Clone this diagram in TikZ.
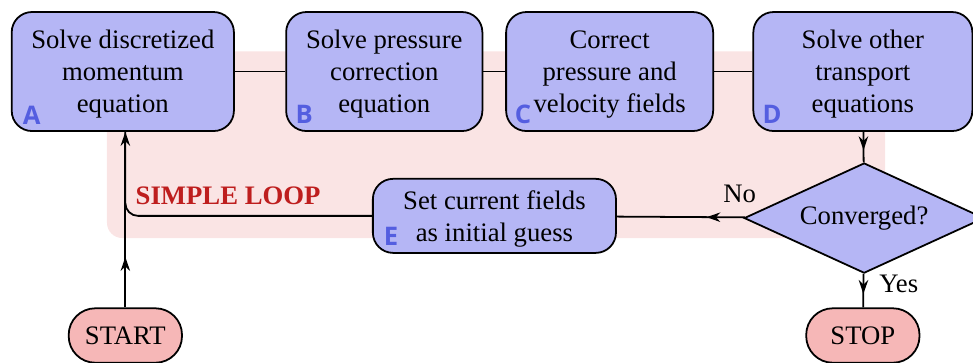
\documentclass[tikz,border=0pt]{standalone}
\usepackage{fontspec}
\setmainfont{Liberation Serif}
\newfontfamily\tagfont{Open Sans}
\usepackage{tikz}
\usetikzlibrary{arrows.meta,positioning,shapes.geometric,calc,decorations.markings}
\definecolor{boxB}{RGB}{181,182,245}
\definecolor{tagB}{RGB}{84,94,224}
\definecolor{loopP}{RGB}{250,228,228}
\definecolor{termR}{RGB}{246,183,183}
\definecolor{loopR}{RGB}{190,30,30}

\begin{document}
\begin{tikzpicture}[font=\fontsize{12}{14.4}\selectfont, >={Stealth[length=2.2mm,width=1.5mm]},
  stepbox/.style={rectangle, rounded corners=3.2mm, draw=black, fill=boxB, thick,
                  minimum height=1.88cm, align=center, inner sep=2pt, text depth=0pt},
  term/.style={rectangle, rounded corners=4.2mm, draw=black, fill=termR, thick,
               minimum width=1.79cm, minimum height=0.86cm, inner sep=2pt},
  test/.style={diamond, draw=black, fill=boxB, thick, aspect=2.18, inner sep=0pt,
               minimum width=3.79cm, minimum height=1.74cm},
  tag/.style={font=\tagfont\bfseries\fontsize{11.5}{13}\selectfont, text=tagB, inner sep=0pt},
  midarrow/.style={postaction={decorate}, decoration={markings,
                   mark=at position #1 with {\arrow{Stealth[length=2.2mm,width=1.5mm]}}}},
  link/.style={thick}]
  \useasboundingbox (0,0) rectangle (15.37,5.72);

  % loop background
  \fill[loopP, rounded corners=2.4mm] (1.69,1.96) rectangle (13.98,4.91);
  \node[font=\bfseries\fontsize{12}{14}\selectfont, text=loopR, anchor=west] (loop) at (2.02,2.62) {SIMPLE LOOP};

  % the four steps of one sweep
  \node[stepbox, minimum width=3.51cm] (A) at (1.94,4.59) {Solve discretized\\ momentum\\ equation};
  \node[stepbox, minimum width=3.10cm] (B) at (6.07,4.59) {Solve pressure\\ correction\\ equation};
  \node[stepbox, minimum width=3.27cm] (C) at (9.63,4.59) {Correct\\ pressure and\\ velocity fields};
  \node[stepbox, minimum width=3.46cm] (D) at (13.63,4.59) {Solve other\\ transport\\ equations};
  \node[stepbox, minimum width=3.84cm, minimum height=1.17cm] (E) at (7.81,2.31) {Set current fields\\ as initial guess};

  \node[test] (conv) at (13.65,2.275) {Converged?};
  \node[term] (start) at (1.98,0.42) {START};
  \node[term] (stop) at (13.63,0.42) {STOP};

  % letter tags
  \node[tag] (tA) at ($(A.south west)+(0.33,0.27)$) {A};
  \node[tag] (tB) at ($(B.south west)+(0.30,0.27)$) {B};
  \node[tag] (tC) at ($(C.south west)+(0.28,0.27)$) {C};
  \node[tag] (tD) at ($(D.south west)+(0.31,0.27)$) {D};
  \node[tag] (tE) at ($(E.south west)+(0.30,0.27)$) {E};

  % connectors
  \draw[link] (A) -- (B);
  \draw[link] (B) -- (C);
  \draw[link] (C) -- (D);
  \draw[link, midarrow=0.6] (D) -- (conv);
  \draw[link, midarrow=0.6] (conv) -- node[right=1.2mm, pos=0.3] (yes) {Yes} (stop);
  \draw[link, midarrow=0.3] (conv) -- node[above, pos=0.0, xshift=-0.8mm, yshift=1mm] (no) {No} (E);
  \coordinate (jn) at (start.north |- E.west);
  \draw[link, midarrow=0.55] (start) -- (jn);
  \draw[link, rounded corners=2mm] (E) -- (jn) -- (jn |- A.south);
  \draw[link, ->] (jn) -- (jn |- A.south);
\end{tikzpicture}
\end{document}
